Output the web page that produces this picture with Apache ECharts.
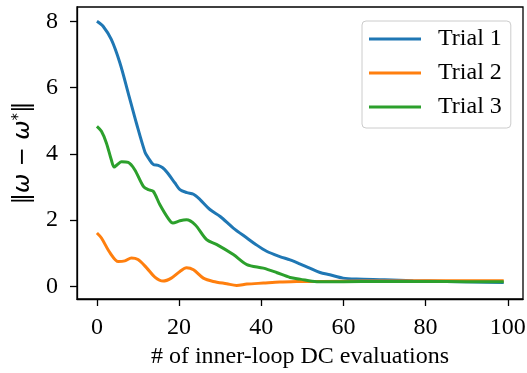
<!DOCTYPE html>
<html>
<head>
<meta charset="utf-8">
<script src="https://cdn.jsdelivr.net/npm/echarts@6/dist/echarts.min.js"></script>
<style>
html,body{margin:0;padding:0;background:#fff;}
#chart{width:527px;height:373px;}
</style>
</head>
<body>
<div id="chart"></div>
<script>
// Data: [x, y] pairs
var trial1 = [[0,8.0],[1.5,7.85],[3.5,7.45],[5.6,6.74],[7.6,5.84],[9.6,4.93],[11.7,4.05],[12.5,3.88],[13.7,3.68],[14.9,3.65],[16.0,3.58],[17,3.45],[19,3.12],[20.2,2.92],[21.9,2.83],[23.5,2.78],[25.1,2.62],[27.5,2.32],[30,2.11],[33.2,1.76],[36.5,1.46],[38.5,1.28],[41.3,1.06],[44.5,0.9],[47,0.8],[49.2,0.69],[51.8,0.55],[54.3,0.42],[56.7,0.35],[59.9,0.25],[63.2,0.22],[70,0.2],[77,0.17],[85,0.15],[92,0.13],[99,0.12]];
var trial2 = [[0,1.61],[1.1,1.46],[3.2,1.01],[5.2,0.75],[6.8,0.77],[8.4,0.86],[10,0.81],[12.1,0.56],[14.1,0.28],[16.1,0.16],[18.1,0.25],[20.2,0.45],[21.8,0.56],[23.5,0.5],[25.9,0.25],[28.3,0.15],[31.6,0.08],[34,0.03],[36.5,0.07],[40.5,0.1],[44.5,0.13],[48.6,0.15],[55,0.15],[65,0.16],[80,0.17],[99,0.17]];
var trial3 = [[0,4.83],[1.1,4.68],[2.3,4.33],[3.5,3.82],[4.2,3.6],[5.0,3.68],[6,3.76],[7.6,3.74],[9.2,3.52],[11.3,3.02],[12.5,2.92],[13.7,2.87],[15.3,2.47],[17.3,2.06],[18.5,1.91],[20.2,1.98],[21.8,2.01],[23.9,1.86],[26.7,1.41],[29.2,1.26],[33.2,0.96],[36.5,0.66],[40.5,0.55],[43.7,0.42],[47,0.27],[49.4,0.22],[53.5,0.14],[60,0.14],[68.8,0.15],[80,0.15],[90,0.14],[99,0.14]];
var seriesNames = ['Trial 1','Trial 2','Trial 3'];
var colors = ['#1f77b4','#ff7f0e','#2ca02c'];
var xTicks = [0,20,40,60,80,100];
var yTicks = [0,2,4,6,8];

var chart = echarts.init(document.getElementById('chart'));
var serif = '"Liberation Serif","Times New Roman",serif';
var dataSets = [trial1, trial2, trial3];
var option = {
  animation: false,
  backgroundColor: '#fff',
  grid: {left:77, top:7, right:4, bottom:74, show:true, borderColor:'#000', borderWidth:1.3, backgroundColor:'transparent', containLabel:false, outerBoundsMode:'none'},
  legend: {
    left: 362, top: 21, orient: 'vertical',
    data: seriesNames,
    icon: 'rect', itemWidth: 52, itemHeight: 3, itemGap: 10,
    padding: [6,9,9,7],
    borderColor: '#cccccc', borderWidth: 1, borderRadius: 4,
    backgroundColor: 'rgba(255,255,255,0.8)',
    textStyle: {fontFamily: serif, fontSize: 24, color:'#000', lineHeight: 24, padding:[0,0,0,12]}
  },
  xAxis: {
    type: 'value', min: -4.85, max: 103.7,
    splitLine: {show:false},
    axisLine: {show:true, onZero:false, lineStyle:{color:'#000', width:1.3}},
    axisTick: {show:true, length:7, lineStyle:{color:'#000', width:1.3}, customValues: xTicks},
    axisLabel: {fontFamily: serif, fontSize: 24, color:'#000', margin: 17, customValues: xTicks},
    name: '# of inner-loop DC evaluations', nameLocation: 'middle', nameGap: 43,
    nameTextStyle: {fontFamily: serif, fontSize: 24, color:'#000'}
  },
  yAxis: {
    type: 'value', min: -0.38, max: 8.43,
    splitLine: {show:false},
    axisLine: {show:true, onZero:false, lineStyle:{color:'#000', width:1.3}},
    axisTick: {show:true, length:7, lineStyle:{color:'#000', width:1.3}, customValues: yTicks},
    axisLabel: {fontFamily: serif, fontSize: 24, color:'#000', margin: 19, customValues: yTicks},
    name: '{n|‖}{w|ω}{n| − }{w|ω}{s|*}{n|‖}', nameLocation: 'middle', nameGap: 42,
    nameTextStyle: {
      rich: {
        n: {fontFamily:'"DejaVu Sans"', fontSize: 23, color:'#000'},
        w: {fontFamily:'"DejaVu Sans"', fontStyle:'italic', fontSize: 23, color:'#000'},
        s: {fontFamily:'"DejaVu Sans"', fontSize: 15, color:'#000', verticalAlign:'top'}
      }
    }
  },
  series: dataSets.map(function(d, i){
    return {
      name: seriesNames[i], type: 'line', data: d, showSymbol: false, symbol: 'none',
      smooth: 0.3,
      lineStyle: {color: colors[i], width: 3}, itemStyle: {color: colors[i]}
    };
  })
};
chart.setOption(option);
</script>
</body>
</html>
